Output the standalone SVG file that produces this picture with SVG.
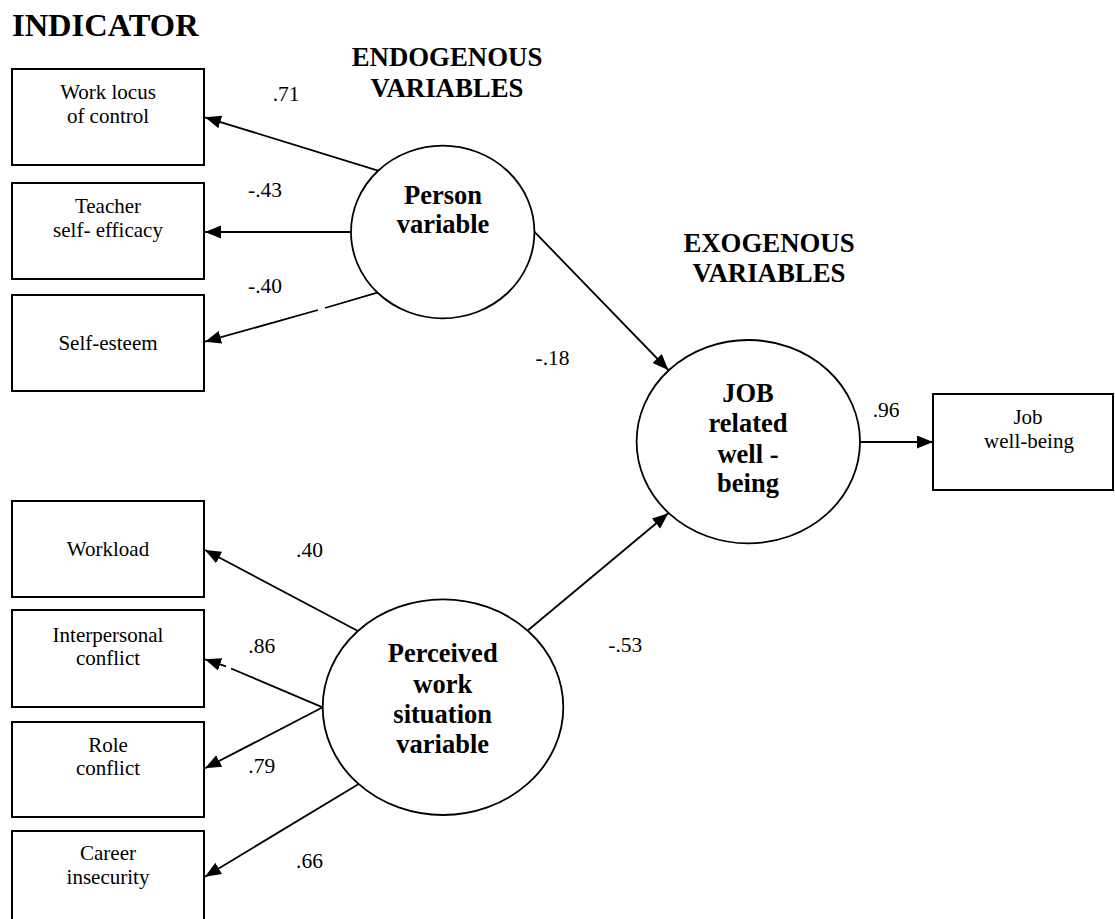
<svg xmlns="http://www.w3.org/2000/svg" width="1115" height="919" viewBox="0 0 1115 919">
<style>
.box{fill:#fff;stroke:#000;stroke-width:2}
.lat{fill:#fff;stroke:#000;stroke-width:1.8}
.t{font-family:"Liberation Serif","Times New Roman",serif;font-size:21px;text-anchor:middle;fill:#000}
.b{font-family:"Liberation Serif","Times New Roman",serif;font-size:26.5px;font-weight:bold;text-anchor:middle;fill:#000}
.h{font-family:"Liberation Serif","Times New Roman",serif;font-size:26.8px;font-weight:bold;text-anchor:middle;fill:#000}
.n{font-family:"Liberation Serif","Times New Roman",serif;font-size:21.5px;fill:#000}
.c{fill:none;stroke:#000;stroke-width:1.8}
</style>
<defs>
<marker id="ah" markerUnits="userSpaceOnUse" markerWidth="17" markerHeight="14" refX="16" refY="6.5" orient="auto">
<path d="M0,0 L16,6.5 L0,13 z" fill="#000"/>
</marker>
</defs>
<rect width="1115" height="919" fill="#fff"/>
<text x="12" y="36" font-family="Liberation Serif, Times New Roman, serif" font-size="32.5" font-weight="bold">INDICATOR</text>
<text class="h" x="447" y="66">ENDOGENOUS</text>
<text class="h" x="447" y="97">VARIABLES</text>
<text class="h" x="769" y="252">EXOGENOUS</text>
<text class="h" x="769" y="282">VARIABLES</text>
<g id="connectors">
<path class="c" d="M378,170.7 L205,117.3" marker-end="url(#ah)"/>
<path class="c" d="M351,232 L205,232" marker-end="url(#ah)"/>
<path class="c" d="M377.3,292.7 L325,308 M318,310 L205,341.7" marker-end="url(#ah)"/>
<path class="c" d="M534.3,231.7 L668.3,370" marker-end="url(#ah)"/>
<path class="c" d="M860,442 L933,442" marker-end="url(#ah)"/>
<path class="c" d="M357,630.5 L205,550" marker-end="url(#ah)"/>
<path class="c" d="M322.7,707.3 L231,668.5 M226,666.4 L205,659.3" marker-end="url(#ah)"/>
<path class="c" d="M322.7,707.3 L205,768.3" marker-end="url(#ah)"/>
<path class="c" d="M358.3,784.3 L205,876.7" marker-end="url(#ah)"/>
<path class="c" d="M528.3,630 L668.3,513.3" marker-end="url(#ah)"/>
</g>
<g id="labels">
<text class="n" x="272.7" y="100.7">.71</text>
<text class="n" x="248" y="196.7">-.43</text>
<text class="n" x="248" y="293.3">-.40</text>
<text class="n" x="535.5" y="365">-.18</text>
<text class="n" x="872.7" y="417">.96</text>
<text class="n" x="296" y="556.7">.40</text>
<text class="n" x="248.3" y="653.3">.86</text>
<text class="n" x="248.3" y="772.7">.79</text>
<text class="n" x="296" y="868.3">.66</text>
<text class="n" x="608.3" y="651.7">-.53</text>
</g>
<g id="box-work-locus"><rect class="box" x="12" y="69" width="192" height="96"/><text class="t" x="108" y="99.3">Work locus</text><text class="t" x="108" y="123.3">of control</text></g>
<g id="box-teacher"><rect class="box" x="12" y="183" width="192" height="96"/><text class="t" x="108" y="213.3">Teacher</text><text class="t" x="108" y="237.3">self- efficacy</text></g>
<g id="box-self-esteem"><rect class="box" x="12" y="295" width="192" height="96"/><text class="t" x="108" y="350">Self-esteem</text></g>
<g id="box-workload"><rect class="box" x="12" y="501" width="192" height="96"/><text class="t" x="108" y="556">Workload</text></g>
<g id="box-interpersonal"><rect class="box" x="12" y="610" width="192" height="97"/><text class="t" x="108" y="641.7">Interpersonal</text><text class="t" x="108" y="665">conflict</text></g>
<g id="box-role"><rect class="box" x="12" y="722" width="192" height="95"/><text class="t" x="108" y="751.7">Role</text><text class="t" x="108" y="775">conflict</text></g>
<g id="box-career"><rect class="box" x="12" y="831" width="192" height="100"/><text class="t" x="108" y="860">Career</text><text class="t" x="108" y="883.5">insecurity</text></g>
<g id="box-job"><rect class="box" x="933" y="394" width="180" height="96"/><text class="t" x="1028" y="424">Job</text><text class="t" x="1029" y="448">well-being</text></g>
<g id="person-variable"><ellipse class="lat" cx="442.7" cy="232" rx="91.7" ry="86.3"/><text class="b" x="443" y="204">Person</text><text class="b" x="443" y="233.3">variable</text></g>
<g id="perceived-work"><ellipse class="lat" cx="443" cy="707.2" rx="120.3" ry="107.8"/><text class="b" x="442.7" y="661.7">Perceived</text><text class="b" x="442.7" y="692.7">work</text><text class="b" x="442.7" y="723.3">situation</text><text class="b" x="442.7" y="753.3">variable</text></g>
<g id="job-related"><ellipse class="lat" cx="748.3" cy="441.7" rx="111.7" ry="101.7"/><text class="b" x="748" y="401.7">JOB</text><text class="b" x="748" y="431.7">related</text><text class="b" x="748" y="463">well -</text><text class="b" x="748" y="491.7">being</text></g>
</svg>
